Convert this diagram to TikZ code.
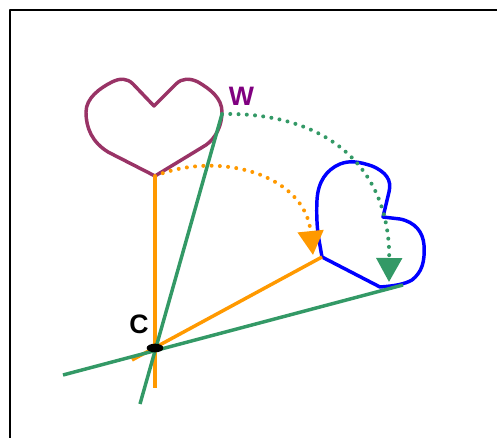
\documentclass[tikz,border=0pt]{standalone}
\usepackage{fontspec}
\setmainfont{Liberation Sans}
\usetikzlibrary{arrows.meta,shapes.geometric}
\definecolor{heartpurple}{HTML}{993366}
\definecolor{labelpurple}{HTML}{800080}
\definecolor{myorange}{HTML}{FF9900}
\definecolor{mygreen}{HTML}{339966}
\definecolor{myblue}{HTML}{0000FF}
\begin{document}
\begin{tikzpicture}[x=0.75pt,y=-0.75pt, line join=round,
  heavy/.style={line width=2.6pt},
  dotarc/.style={line width=3pt, line cap=round, dash pattern=on 0pt off 6.2pt,
    -{Triangle[length=18pt,width=19pt]}},
  lbl/.style={font=\fontsize{20}{24}\selectfont\bfseries, inner sep=0pt}]
\useasboundingbox (0,0) rectangle (497,438);
\draw[line width=1.5pt] (10,438) -- (10,10) -- (497,10);

% coordinates
\coordinate (ptip) at (155,176);
\coordinate (W) at (222,114);
\coordinate (btip) at (322,257);
\coordinate (bcorner) at (403,285);
\coordinate (obot) at (155,388);
\coordinate (ostub) at (132,360);
\coordinate (g1end) at (140,404);
\coordinate (g2end) at (63,375);
\coordinate (oarrow) at (313,255);
\coordinate (garrow) at (389,282);

% purple heart
\draw[heavy, heartpurple] (ptip) -- (108,152) .. controls (92,142) and (86,128) .. (86,112)
  .. controls (86,98) and (100,88) .. (112,82) .. controls (120,78) and (127,78) .. (133,84)
  -- (154,106) -- (176,84) .. controls (182,78) and (190,78) .. (198,82)
  .. controls (210,89) and (222,98) .. (222,112) .. controls (222,125) and (216,138) .. (206,145)
  -- cycle;

% blue heart
\draw[heavy, myblue] (btip) -- (380,287) .. controls (395,286) and (405,284) .. (412,280)
  .. controls (422,272) and (425,262) .. (424,245) .. controls (423,232) and (415,222) .. (400,219)
  -- (383,217) -- (389,192) .. controls (392,180) and (386,172) .. (372,166)
  .. controls (360,162) and (350,160) .. (340,164) .. controls (326,170) and (318,182) .. (317,200)
  .. controls (316,220) and (318,235) .. (319,240) -- cycle;

% orange lines
\draw[heavy, myorange] (ptip) -- (obot);
\draw[heavy, myorange] (ostub) -- (btip);

% green lines
\draw[heavy, mygreen] (g1end) -- (W);
\draw[heavy, mygreen] (g2end) -- (bcorner);

% dotted arcs
\draw[dotarc, myorange] (ptip) .. controls (220,150) and (305,175) .. (oarrow);
\draw[dotarc, mygreen] (W) .. controls (330,112) and (390,170) .. (garrow);

% centre point
\node[ellipse, fill=black, minimum width=12.5pt, minimum height=6.5pt, inner sep=0pt] (C) at (155,348) {};

% labels
\node[lbl] (Clbl) at (139,324.5) {C};
\node[lbl, text=labelpurple] (Wlbl) at (241.5,96.5) {W};
\end{tikzpicture}
\end{document}
